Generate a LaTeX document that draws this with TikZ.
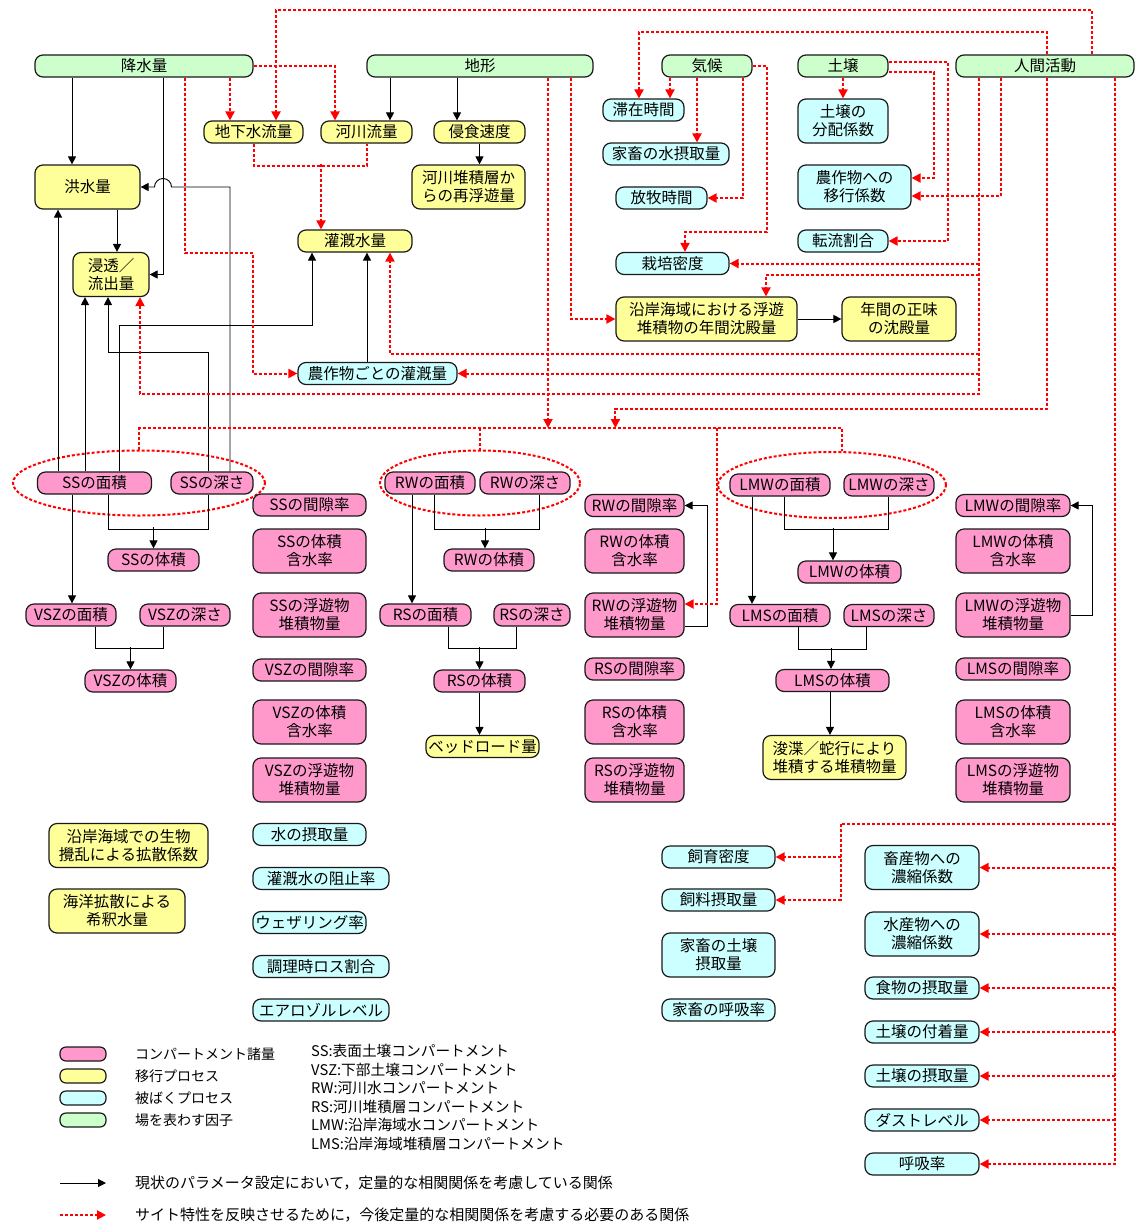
\documentclass[tikz,border=0pt]{standalone}
\usepackage{fontspec}
\setmainfont{Noto Sans CJK JP}
\usepackage{tikz}
\usetikzlibrary{arrows.meta, shapes.geometric}
\usepackage{xcolor}
\definecolor{cmpink}{HTML}{FF99CC}
\definecolor{mvyel}{HTML}{FFFF99}
\definecolor{excyan}{HTML}{CCFFFF}
\definecolor{fldgrn}{HTML}{CCFFCC}
\definecolor{rline}{HTML}{FF0000}

\tikzset{
  box/.style={draw=black!90, line width=1.2pt, rounded corners=8pt, inner sep=1pt,
    minimum height=22, align=center, font=\fontsize{15.5}{18}\selectfont},
  two/.style={minimum height=44},
  pk/.style={box, fill=cmpink},
  yl/.style={box, fill=mvyel},
  cy/.style={box, fill=excyan},
  gn/.style={box, fill=fldgrn},
  ln/.style={draw=black, line width=0.9pt},
  blk/.style={ln, -{Triangle[length=8pt,width=8pt]}},
  rdash/.style={draw=rline, line width=2pt, dash pattern=on 3pt off 2pt},
  rarr/.style={rdash, -{Triangle[length=9pt,width=9pt]}},
  lgtxt/.style={anchor=west, inner sep=0pt, font=\fontsize{14}{17}\selectfont},
}

\begin{document}
\begin{tikzpicture}[x=1pt, y=-1pt]
  \fill[white] (0,0) rectangle (1135,1224);
  \useasboundingbox (0,0) rectangle (1135,1224);

  % field factors
  \node[gn, minimum width=218] (pre) at (144,66) {降水量};
  \node[gn, minimum width=226] (ter) at (480,66) {地形};
  \node[gn, minimum width=90] (cli) at (707,66) {気候};
  \node[gn, minimum width=90] (soi) at (843,66) {土壌};
  \node[gn, minimum width=178] (hum) at (1045,66) {人間活動};

  % transfer processes
  \node[yl, minimum width=99] (gw) at (253.5,132) {地下水流量};
  \node[yl, minimum width=91] (rf) at (366.5,132) {河川流量};
  \node[yl, minimum width=91] (er) at (479.5,132) {侵食速度};
  \node[yl, two, minimum width=113] (rs) at (468.5,187) {河川堆積層か\\らの再浮遊量};
  \node[yl, two, minimum width=105] (fl) at (87.5,187) {洪水量};
  \node[yl, two, minimum width=76] (inf) at (111,274.5) {浸透／\\流出量};
  \node[yl, minimum width=114] (irr) at (355,241) {灌漑水量};
  \node[yl, two, minimum width=181] (sed) at (706.5,319) {沿岸海域における浮遊\\堆積物の年間沈殿量};
  \node[yl, two, minimum width=114] (net) at (899,319) {年間の正味\\の沈殿量};
  \node[yl, minimum width=113] (bed) at (482.5,746.5) {ベッドロード量};
  \node[yl, two, minimum width=143] (dre) at (834.5,757.5) {浚渫／蛇行により\\堆積する堆積物量};
  \node[yl, two, minimum width=159] (bio) at (128.5,845.5) {沿岸海域での生物\\攪乱による拡散係数};
  \node[yl, two, minimum width=136] (dil) at (117,911) {海洋拡散による\\希釈水量};

  % exposure processes
  \node[cy, minimum width=81] (res) at (643.5,110) {滞在時間};
  \node[cy, minimum width=126] (lwi) at (666,154) {家畜の水摂取量};
  \node[cy, minimum width=91] (gra) at (661.5,198) {放牧時間};
  \node[cy, minimum width=113] (cul) at (672.5,263.5) {栽培密度};
  \node[cy, two, minimum width=90] (kd) at (843,121) {土壌の\\分配係数};
  \node[cy, two, minimum width=113] (tf) at (854.5,187) {農作物への\\移行係数};
  \node[cy, minimum width=90] (tl) at (843,241) {転流割合};
  \node[cy, minimum width=159] (cir) at (377.5,373.5) {農作物ごとの灌漑量};
  \node[cy, minimum width=113] (wi) at (309.5,834.5) {水の摂取量};
  \node[cy, minimum width=136] (irf) at (321,878.5) {灌漑水の阻止率};
  \node[cy, minimum width=113] (wea) at (309.5,922.5) {ウェザリング率};
  \node[cy, minimum width=136] (cook) at (321,966.5) {調理時ロス割合};
  \node[cy, minimum width=136] (aer) at (321,1010) {エアロゾルレベル};
  \node[cy, minimum width=113] (ld) at (718.5,857) {飼育密度};
  \node[cy, minimum width=113] (fi) at (718.5,900) {飼料摂取量};
  \node[cy, two, minimum width=113] (lsi) at (718.5,955) {家畜の土壌\\摂取量};
  \node[cy, minimum width=113] (lbr) at (718.5,1010) {家畜の呼吸率};
  \node[cy, two, minimum width=114] (cfa) at (922,867.5) {畜産物への\\濃縮係数};
  \node[cy, two, minimum width=114] (cfq) at (922,934) {水産物への\\濃縮係数};
  \node[cy, minimum width=114] (fdi) at (922,988) {食物の摂取量};
  \node[cy, minimum width=114] (sad) at (922,1032) {土壌の付着量};
  \node[cy, minimum width=114] (sin) at (922,1076) {土壌の摂取量};
  \node[cy, minimum width=114] (dust) at (922,1120) {ダストレベル};
  \node[cy, minimum width=114] (br) at (922,1164) {呼吸率};

  % compartments
  \node[ellipse, rdash, minimum width=252, minimum height=65, inner sep=0pt] (ssE) at (139,483) {};
  \node[ellipse, rdash, minimum width=200, minimum height=65, inner sep=0pt] (rwE) at (480,483) {};
  \node[ellipse, rdash, minimum width=228, minimum height=66, inner sep=0pt] (lwE) at (832,485) {};
  \node[pk, minimum width=114] (ssA) at (94.5,483) {SSの面積};
  \node[pk, minimum width=82] (ssD) at (212,483) {SSの深さ};
  \node[pk, minimum width=91] (ssV) at (153.5,560) {SSの体積};
  \node[pk, minimum width=113] (ssP) at (309.5,505) {SSの間隙率};
  \node[pk, two, minimum width=113] (ssM) at (309.5,551) {SSの体積\\含水率};
  \node[pk, two, minimum width=113] (ssS) at (309.5,615) {SSの浮遊物\\堆積物量};
  \node[pk, minimum width=90] (vzA) at (71,615) {VSZの面積};
  \node[pk, minimum width=90] (vzD) at (185,615) {VSZの深さ};
  \node[pk, minimum width=91] (vzV) at (130.5,681) {VSZの体積};
  \node[pk, minimum width=113] (vzP) at (309.5,670) {VSZの間隙率};
  \node[pk, two, minimum width=113] (vzM) at (309.5,722) {VSZの体積\\含水率};
  \node[pk, two, minimum width=113] (vzS) at (309.5,780) {VSZの浮遊物\\堆積物量};
  \node[pk, minimum width=90] (rwA) at (430,483) {RWの面積};
  \node[pk, minimum width=90] (rwD) at (525,483) {RWの深さ};
  \node[pk, minimum width=90] (rwV) at (489,560) {RWの体積};
  \node[pk, minimum width=91] (rsA) at (425.5,615) {RSの面積};
  \node[pk, minimum width=76] (rsD) at (532,615) {RSの深さ};
  \node[pk, minimum width=91] (rsV) at (479.5,681) {RSの体積};
  \node[pk, minimum width=99] (rwP) at (634.5,505.5) {RWの間隙率};
  \node[pk, two, minimum width=99] (rwM) at (634.5,551) {RWの体積\\含水率};
  \node[pk, two, minimum width=99] (rwS) at (634.5,615) {RWの浮遊物\\堆積物量};
  \node[pk, minimum width=99] (rsP) at (634.5,669) {RSの間隙率};
  \node[pk, two, minimum width=99] (rsM) at (634.5,722) {RSの体積\\含水率};
  \node[pk, two, minimum width=99] (rsS) at (634.5,780) {RSの浮遊物\\堆積物量};
  \node[pk, minimum width=100] (lwA) at (780,485) {LMWの面積};
  \node[pk, minimum width=90] (lwD) at (889,485) {LMWの深さ};
  \node[pk, minimum width=103] (lwV) at (849.5,572) {LMWの体積};
  \node[pk, minimum width=100] (lsA) at (780,615.5) {LMSの面積};
  \node[pk, minimum width=90] (lsD) at (889,615.5) {LMSの深さ};
  \node[pk, minimum width=113] (lsV) at (832.5,680.5) {LMSの体積};
  \node[pk, minimum width=114] (lwP) at (1013,505.5) {LMWの間隙率};
  \node[pk, two, minimum width=114] (lwM) at (1013,551) {LMWの体積\\含水率};
  \node[pk, two, minimum width=114] (lwS) at (1013,615) {LMWの浮遊物\\堆積物量};
  \node[pk, minimum width=114] (lsP) at (1013,669) {LMSの間隙率};
  \node[pk, two, minimum width=114] (lsM) at (1013,722) {LMSの体積\\含水率};
  \node[pk, two, minimum width=114] (lsS) at (1013,780) {LMSの浮遊物\\堆積物量};

  % quantified relations
  \draw[blk] ([xshift=-15.5pt]fl.north |- pre.south) -- ([xshift=-15.5pt]fl.north);
  \draw[blk] ([xshift=19pt]pre.south) |- (inf.east);
  \draw[blk] ([xshift=-90pt]ter.south) -- ([xshift=-90pt]ter.south |- rf.north);
  \draw[blk] ([xshift=-23pt]ter.south) -- ([xshift=-23pt]ter.south |- er.north);
  \draw[blk] (er.south) -- (er.south |- rs.north);
  \draw[blk] ([xshift=29.5pt]fl.south) -- ([xshift=29.5pt]fl.south |- inf.north);
  \draw[blk] ([xshift=18pt]ssD.north) -- ([xshift=18pt]ssD.north |- fl.east)
    -- ([xshift=27.5pt]pre.south |- fl.east) arc[start angle=0, end angle=180, radius=8.5pt] -- (fl.east);
  \draw[blk] ([xshift=-36.5pt]ssA.north) -- ([xshift=-36.5pt]ssA.north |- fl.south);
  \draw[blk] ([xshift=-9.5pt]ssA.north) -- ([xshift=-9.5pt]ssA.north |- inf.south);
  \draw[blk] ([xshift=-4pt]ssD.north) -- ++(0,-119) -| ([xshift=-3pt]inf.south);
  \draw[blk] ([xshift=24.5pt]ssA.north) -- ++(0,-146) -| ([xshift=-43pt]irr.south);
  \draw[blk] ([xshift=-10.5pt]cir.north) -- ([xshift=-10.5pt]cir.north |- irr.south);
  \draw[blk] (sed.east) -- (net.west);
  \draw[blk] ([xshift=-22.5pt]ssA.south) -- ([xshift=-22.5pt]ssA.south |- vzA.north);
  \draw[ln] ([xshift=13.5pt]ssA.south) -- ++(0,35) -| ([xshift=-4pt]ssD.south);
  \draw[blk] ([yshift=21pt]ssV.north) -- (ssV.north);
  \draw[ln] ([xshift=24pt]vzA.south) -- ++(0,22) -| ([xshift=-22pt]vzD.south);
  \draw[blk] ([yshift=22pt]vzV.north) -- (vzV.north);
  \draw[blk] ([xshift=-18pt]rwA.south) -- ([xshift=-18pt]rwA.south |- rsA.north);
  \draw[ln] ([xshift=4pt]rwA.south) -- ++(0,35) -| ([xshift=14pt]rwD.south);
  \draw[blk] ([xshift=-4pt,yshift=20pt]rwV.north) -- ([xshift=-4pt]rwV.north);
  \draw[ln] ([xshift=22.5pt]rsA.south) -- ++(0,22) -| ([xshift=-16pt]rsD.south);
  \draw[blk] ([yshift=22pt]rsV.north) -- (rsV.north);
  \draw[blk] (rsV.south) -- (rsV.south |- bed.north);
  \draw[blk] ([yshift=-11pt]rwS.east) -- ++(23,0) |- (rwP.east);
  \draw[blk] ([xshift=-28pt]lwA.south) -- ([xshift=-28pt]lwA.south |- lsA.north);
  \draw[ln] ([xshift=4pt]lwA.south) -- ++(0,33) -| ([xshift=-1pt]lwD.south);
  \draw[blk] ([xshift=-16.5pt,yshift=32pt]lwV.north) -- ([xshift=-16.5pt]lwV.north);
  \draw[ln] ([xshift=18pt]lsA.south) -- ++(0,22) -| ([xshift=-23pt]lsD.south);
  \draw[blk] ([xshift=-1.5pt,yshift=21pt]lsV.north) -- ([xshift=-1.5pt]lsV.north);
  \draw[blk] ([xshift=-2.5pt]lsV.south) -- ([xshift=-2.5pt]lsV.south |- dre.north);
  \draw[blk] (lwS.east) -- ++(22,0) |- (lwP.east);

  % site-specific relations
  \coordinate (bus) at (480,428);
  \draw[rarr] ([xshift=86pt]pre.south) -- ([xshift=86pt]pre.south |- gw.north);
  \draw[rarr] (pre.east) -| ([xshift=-31.5pt]rf.north);
  \draw[rarr] ([xshift=47pt]hum.north) -- ++(0,-44) -| ([xshift=22.5pt]gw.north);
  \draw[rarr] ([xshift=2pt]hum.north) -- ++(0,-22) -| ([xshift=-4.5pt]res.north);
  \draw[rdash] (gw.south) -- ++(0,22) -| (rf.south);
  \draw[rarr] ([xshift=-34pt,yshift=65pt]irr.north) -- ([xshift=-34pt]irr.north);
  \draw[rarr] ([xshift=41pt]pre.south) -- ++(0,175) -- ++(68,0) |- (cir.west);
  \draw[rarr] ([xshift=68pt]ter.south) -- ([xshift=68pt]ter.south |- bus);
  \draw[rarr] ([xshift=91pt]ter.south) |- (sed.west);
  \draw[rarr] ([xshift=-37pt]cli.south) -- ([xshift=-37pt]cli.south |- res.north);
  \draw[rarr] ([xshift=-10pt]cli.south) -- ([xshift=-10pt]cli.south |- lwi.north);
  \draw[rarr] ([xshift=36pt]cli.south) |- (gra.east);
  \draw[rarr] (cli.east) -- ++(14,0) -- ++(0,166) -| ([xshift=12.5pt]cul.north);
  \draw[rarr] (soi.south) -- (kd.north);
  \draw[rarr] ([yshift=4pt]soi.east) -- ++(59,0) |- (tl.east);
  \draw[rarr] ([yshift=-6pt]soi.east) -- ++(45,0) |- ([yshift=9pt]tf.east);
  \draw[rarr] ([xshift=-44pt]hum.south) |- ([yshift=-9pt]tf.east);
  \draw[rarr] ([xshift=-66pt]hum.south) -- ++(0,316) -| ([xshift=29pt]inf.south);
  \draw[rarr] ([xshift=-66pt]hum.south |- cul.east) -- (cul.east);
  \draw[rarr] ([xshift=-66pt,yshift=-197pt]hum.south) -| ([xshift=59.5pt]sed.north);
  \draw[rarr] ([xshift=-66pt,yshift=-276pt]hum.south) -| ([xshift=35pt]irr.south);
  \draw[rarr] ([xshift=-66pt]hum.south |- cir.east) -- (cir.east);
  \draw[rarr] ([xshift=2pt]hum.south) -- ++(0,331) -| (sed.west |- bus);
  \draw[rdash] (ssE.north) |- (bus) -| ([xshift=10pt]lwE.north);
  \draw[rdash] (bus) -- (rwE.north);
  \draw[rarr] ([xshift=32pt]rwS.east |- bus) |- ([yshift=11pt]rwS.east);
  \draw[rarr] ([xshift=70pt]hum.south) |- (br.east);
  \foreach \t in {cfa,cfq,fdi,sad,sin,dust}
    \draw[rarr] ([xshift=70pt]hum.south |- \t.east) -- (\t.east);
  \draw[rarr] ([xshift=70pt,yshift=-746pt]hum.south) -| ([xshift=65pt]fi.east) -- (fi.east);
  \draw[rarr] ([xshift=65pt]ld.east) -- (ld.east);

  % legend
  \node[pk, minimum width=46, minimum height=14, rounded corners=6pt] (kP) at (83,1054) {};
  \node[yl, minimum width=46, minimum height=14, rounded corners=6pt] (kY) at (83,1076) {};
  \node[cy, minimum width=46, minimum height=14, rounded corners=6pt] (kC) at (83,1098) {};
  \node[gn, minimum width=46, minimum height=14, rounded corners=6pt] (kG) at (83,1120) {};
  \node[lgtxt] (kPt) at (135,1054) {コンパートメント諸量};
  \node[lgtxt] (kYt) at (135,1076) {移行プロセス};
  \node[lgtxt] (kCt) at (135,1098) {被ばくプロセス};
  \node[lgtxt] (kGt) at (135,1120) {場を表わす因子};
  \node[lgtxt, anchor=north west, align=left, font=\fontsize{14.7}{18.6}\selectfont] (abbr) at (311,1044)
    {SS:表面土壌コンパートメント\\VSZ:下部土壌コンパートメント\\RW:河川水コンパートメント\\RS:河川堆積層コンパートメント\\LMW:沿岸海域水コンパートメント\\LMS:沿岸海域堆積層コンパートメント};
  \coordinate (kA1) at (60,1183);
  \coordinate (kA2) at (106,1183);
  \coordinate (kB1) at (60,1215);
  \coordinate (kB2) at (106,1215);
  \draw[blk] (kA1) -- (kA2);
  \draw[rarr] (kB1) -- (kB2);
  \node[lgtxt, font=\fontsize{15}{17}\selectfont] (kAt) at (135,1183) {現状のパラメータ設定において，定量的な相関関係を考慮している関係};
  \node[lgtxt, font=\fontsize{15}{17}\selectfont] (kBt) at (135,1215) {サイト特性を反映させるために，今後定量的な相関関係を考慮する必要のある関係};
\end{tikzpicture}
\end{document}
